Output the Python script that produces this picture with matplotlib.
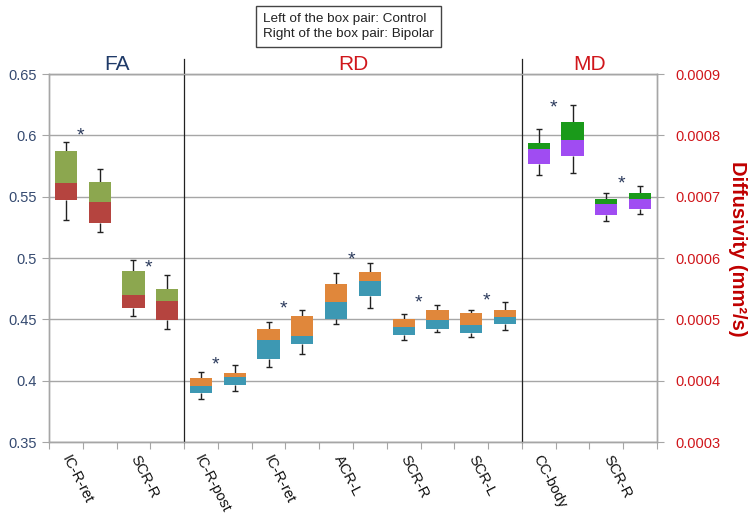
import matplotlib
matplotlib.use("Agg")
import matplotlib.pyplot as plt
import matplotlib.transforms as mtransforms

plt.rcParams['font.family'] = ['Liberation Sans', 'DejaVu Sans']

# Categories (each has a box pair: control on the left, bipolar on the right)
fa_labels = ['IC-R-ret', 'SCR-R']
rd_labels = ['IC-R-post', 'IC-R-ret', 'ACR-L', 'SCR-R', 'SCR-L']
md_labels = ['CC-body', 'SCR-R']

# FA (left axis), order: control, bipolar, control, bipolar ...
fa_whi = [0.5946, 0.5725, 0.4984, 0.4864]
fa_q3 = [0.5873, 0.5616, 0.4897, 0.4748]
fa_med = [0.5608, 0.5458, 0.4701, 0.4650]
fa_q1 = [0.5475, 0.5284, 0.4592, 0.4494]
fa_wlo = [0.5311, 0.5216, 0.4530, 0.4418]
fa_star = [0.6047, 0.4970]

# RD (right axis, mm2/s)
rd_whi = [0.000414, 0.000425, 0.000496, 0.000516, 0.000576, 0.000592, 0.000508, 0.000524, 0.000516, 0.000528]
rd_q3 = [0.000404, 0.000413, 0.000485, 0.000506, 0.000557, 0.000577, 0.000500, 0.000516, 0.000511, 0.000516]
rd_med = [0.000392, 0.000406, 0.000467, 0.000473, 0.000529, 0.000563, 0.000487, 0.000499, 0.000490, 0.000504]
rd_q1 = [0.000380, 0.000393, 0.000436, 0.000460, 0.000500, 0.000538, 0.000474, 0.000485, 0.000477, 0.000492]
rd_wlo = [0.000370, 0.000383, 0.000423, 0.000443, 0.000493, 0.000518, 0.000466, 0.000480, 0.000471, 0.000483]
rd_star = [0.000437, 0.000528, 0.000608, 0.000538, 0.000540]

# MD (right axis, mm2/s)
md_whi = [0.000810, 0.000850, 0.000706, 0.000718]
md_q3 = [0.000788, 0.000821, 0.000696, 0.000706]
md_med = [0.000778, 0.000792, 0.000688, 0.000696]
md_q1 = [0.000753, 0.000766, 0.000670, 0.000680]
md_wlo = [0.000736, 0.000739, 0.000660, 0.000671]
md_star = [0.000856, 0.000731]

left_ticks = [0.35, 0.4, 0.45, 0.5, 0.55, 0.6, 0.65]
left_ticklabels = ['0.35', '0.4', '0.45', '0.5', '0.55', '0.6', '0.65']
right_ticks = [0.0003, 0.0004, 0.0005, 0.0006, 0.0007, 0.0008, 0.0009]
right_ticklabels = ['0.0003', '0.0004', '0.0005', '0.0006', '0.0007', '0.0008', '0.0009']

GRID = '#a6a6a6'
STAR = '#2b3a5c'
LEFT_TXT = '#354a70'
RED_TXT = '#d0161b'

fig = plt.figure(figsize=(7.5, 5.24), dpi=100)
ax = fig.add_axes([49 / 750, 1 - 442 / 524, 608 / 750, 368 / 524])
ax2 = ax.twinx()

ax.set_xlim(-0.5, 17.5)
ax.set_ylim(0.35, 0.65)
ax2.set_ylim(0.0003, 0.0009)

ax.set_yticks(left_ticks)
ax.set_yticklabels(left_ticklabels, color=LEFT_TXT, fontsize=10.5)
ax2.set_yticks(right_ticks)
ax2.set_yticklabels(right_ticklabels, color=RED_TXT, fontsize=10.5)
ax.tick_params(axis='y', length=5, color=GRID, pad=4)
ax2.tick_params(axis='y', length=5, color=GRID, pad=8)
ax.yaxis.grid(True, color=GRID, lw=1)
ax.set_axisbelow(True)

# x ticks at every slot boundary, no tick labels (drawn as rotated text)
ax.set_xticks([i - 0.5 for i in range(19)])
ax.set_xticklabels([])
ax.tick_params(axis='x', length=5, color=GRID)

for a in (ax, ax2):
    for s in a.spines.values():
        s.set_color(GRID)
        s.set_linewidth(1)

box_w = 0.66
cap = 0.09


def draw_boxes(axis, x0, whi, q3, med, q1, wlo, c_up, c_lo):
    for i in range(len(whi)):
        x = x0 + i
        axis.bar(x, med[i] - q1[i], bottom=q1[i], width=box_w, color=c_lo, zorder=3)
        axis.bar(x, q3[i] - med[i], bottom=med[i], width=box_w, color=c_up, zorder=3)
        axis.vlines(x, q3[i], whi[i], color='#222222', lw=1, zorder=2)
        axis.vlines(x, wlo[i], q1[i], color='#222222', lw=1, zorder=2)
        axis.hlines([whi[i], wlo[i]], x - cap, x + cap, color='#222222', lw=1, zorder=2)


draw_boxes(ax, 0, fa_whi, fa_q3, fa_med, fa_q1, fa_wlo, '#8ca74f', '#b5443f')
draw_boxes(ax2, 4, rd_whi, rd_q3, rd_med, rd_q1, rd_wlo, '#e0873b', '#3d98b3')
draw_boxes(ax2, 14, md_whi, md_q3, md_med, md_q1, md_wlo, '#1a9a1a', '#a04cf2')

# significance stars
star_off = mtransforms.ScaledTranslation(-2 / 100, -11 / 100, fig.dpi_scale_trans)
for i, y in enumerate(fa_star):
    ax.text(0.5 + 2 * i, y, '*', color=STAR, fontsize=14, ha='center', va='baseline',
            transform=ax.transData + star_off)
for i, y in enumerate(rd_star):
    ax2.text(4.5 + 2 * i, y, '*', color=STAR, fontsize=14, ha='center', va='baseline',
             transform=ax2.transData + star_off)
for i, y in enumerate(md_star):
    ax2.text(14.5 + 2 * i, y, '*', color=STAR, fontsize=14, ha='center', va='baseline',
             transform=ax2.transData + star_off)

# rotated category labels
lab_off = mtransforms.ScaledTranslation(-6 / 100, -11 / 100, fig.dpi_scale_trans)
blend = mtransforms.blended_transform_factory(ax.transData, ax.transAxes)
all_labels = fa_labels + rd_labels + md_labels
for i, lab in enumerate(all_labels):
    ax.text(0.5 + 2 * i, 0, lab, rotation=-63, ha='center', va='top', fontsize=10.5,
            color='#111111', transform=blend + lab_off, clip_on=False)

# section separators and titles
for xs in (3.5, 13.5):
    ax.plot([xs, xs], [0, 1.04], color='#222222', lw=0.9, transform=blend, clip_on=False, zorder=4)
ax.text(1.5, 1.025, 'FA', color='#1f3a68', fontsize=15, ha='center', va='center', transform=blend)
ax.text(8.5, 1.025, 'RD', color=RED_TXT, fontsize=15, ha='center', va='center', transform=blend)
ax.text(15.5, 1.025, 'MD', color=RED_TXT, fontsize=15, ha='center', va='center', transform=blend)

ax2.set_ylabel('Diffusivity (mm²/s)', rotation=-90, color='#c00000', fontsize=14.5,
               fontweight='bold', va='center', ha='center')
ax2.yaxis.set_label_coords(1.1316, 0.524)

fig.text(263 / 750, 1 - 26.5 / 524,
         'Left of the box pair: Control\nRight of the box pair: Bipolar',
         ha='left', va='center', fontsize=9.7, color='#222222', linespacing=1.3,
         bbox=dict(boxstyle='square,pad=0.5', fc='white', ec='#444444', lw=1))

fig.savefig('out.png', dpi=100)
